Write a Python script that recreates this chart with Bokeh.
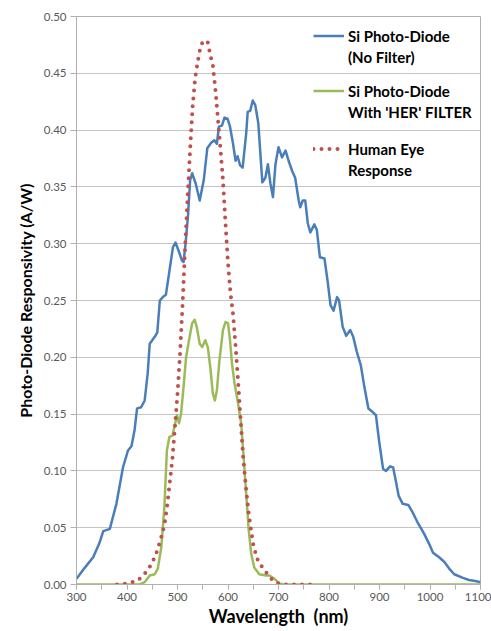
from bokeh.plotting import figure
from bokeh.models import Legend, LegendItem, NumeralTickFormatter, FixedTicker, Range1d
from bokeh.embed import file_html
from bokeh.resources import INLINE

# ---- data ----
blue_nm = [300, 315, 333, 345, 353, 366, 379, 392, 402, 409, 415, 420, 428, 435, 441, 445, 455, 460,
           465, 471, 477, 484, 491, 496, 502, 509, 512, 516, 521, 525, 529, 536, 544, 552, 559, 567,
           573, 578, 582, 588, 593, 599, 604, 610, 615, 619, 624, 629, 636, 639, 644, 649, 654, 660,
           668, 674, 679, 684, 689, 694, 700, 707, 714, 720, 727, 733, 740, 743, 748, 753, 758, 763,
           771, 776, 782, 791, 797, 803, 809, 816, 820, 827, 834, 842, 848, 855, 863, 870, 878, 886,
           893, 899, 907, 913, 921, 927, 932, 938, 946, 957, 965, 975, 988, 998, 1006, 1018, 1028,
           1038, 1048, 1064, 1077, 1090, 1100]
blue_val = [0.005, 0.014, 0.024, 0.036, 0.047, 0.049, 0.071, 0.103, 0.118, 0.122, 0.136, 0.155, 0.156,
            0.162, 0.186, 0.212, 0.218, 0.222, 0.250, 0.253, 0.255, 0.276, 0.297, 0.301, 0.294, 0.285,
            0.284, 0.300, 0.326, 0.356, 0.362, 0.353, 0.338, 0.356, 0.384, 0.389, 0.391, 0.388, 0.403,
            0.404, 0.411, 0.410, 0.403, 0.388, 0.373, 0.377, 0.369, 0.367, 0.397, 0.416, 0.417, 0.426,
            0.422, 0.406, 0.354, 0.358, 0.370, 0.353, 0.341, 0.370, 0.385, 0.376, 0.382, 0.373, 0.364,
            0.358, 0.338, 0.332, 0.338, 0.338, 0.318, 0.310, 0.317, 0.312, 0.288, 0.287, 0.268, 0.246,
            0.241, 0.253, 0.250, 0.227, 0.219, 0.224, 0.218, 0.205, 0.193, 0.174, 0.155, 0.152, 0.149,
            0.127, 0.102, 0.100, 0.104, 0.103, 0.092, 0.078, 0.071, 0.070, 0.064, 0.055, 0.045, 0.036,
            0.028, 0.024, 0.020, 0.014, 0.009, 0.006, 0.004, 0.003, 0.002]

green_nm = [300, 425, 435, 445, 455, 461, 468, 474, 479, 484, 490, 494, 499, 503, 507, 512, 517, 524,
            529, 534, 538, 544, 549, 555, 560, 565, 570, 574, 578, 583, 590, 595, 600, 604, 608, 613,
            619, 626, 631, 636, 641, 646, 652, 662, 675, 682, 692, 702, 710, 1100]
green_val = [0.0, 0.0, 0.002, 0.008, 0.009, 0.014, 0.033, 0.068, 0.118, 0.130, 0.131, 0.139, 0.149,
             0.142, 0.150, 0.174, 0.200, 0.218, 0.230, 0.233, 0.227, 0.212, 0.209, 0.215, 0.209, 0.191,
             0.168, 0.162, 0.171, 0.197, 0.224, 0.231, 0.230, 0.215, 0.194, 0.177, 0.162, 0.142, 0.112,
             0.080, 0.048, 0.027, 0.015, 0.009, 0.008, 0.008, 0.005, 0.001, 0.0, 0.0]

eye_nm = [380, 390, 400, 410, 420, 430, 440, 450, 460, 470, 475, 480, 485, 490, 495, 500, 505, 510,
          515, 520, 525, 530, 535, 540, 545, 550, 555, 560, 565, 570, 575, 580, 585, 590, 595, 600,
          605, 610, 615, 620, 625, 630, 635, 640, 645, 650, 655, 660, 670, 680, 690, 700, 710, 720,
          730, 740, 750, 760, 770]
eye_val = [0.000, 0.000, 0.001, 0.002, 0.003, 0.007, 0.012, 0.019, 0.030, 0.045, 0.055, 0.071, 0.091,
           0.111, 0.139, 0.168, 0.203, 0.246, 0.296, 0.341, 0.383, 0.421, 0.446, 0.460, 0.472, 0.478,
           0.479, 0.477, 0.466, 0.457, 0.436, 0.410, 0.384, 0.356, 0.318, 0.283, 0.256, 0.238, 0.210,
           0.179, 0.145, 0.112, 0.088, 0.066, 0.050, 0.035, 0.027, 0.020, 0.014, 0.008, 0.003, 0.001,
           0.000, 0.000, 0.000, 0.000, 0.000, 0.000, 0.000]

x_ticks = [300, 400, 500, 600, 700, 800, 900, 1000, 1100]
y_ticks = [0.00, 0.05, 0.10, 0.15, 0.20, 0.25, 0.30, 0.35, 0.40, 0.45, 0.50]

labels = [("Si Photo-Diode", "(No Filter)"),
          ("Si Photo-Diode", "With 'HER' FILTER"),
          ("Human Eye", "Response")]

# ---- figure ----
p = figure(width=491, height=631, output_backend="svg", toolbar_location=None,
           x_range=Range1d(300, 1100), y_range=Range1d(0, 0.5),
           min_border_left=76, min_border_right=11, min_border_top=16, min_border_bottom=47)

FONT = "Lato"
TXT = "#595959"
GRID = "#C4C4C4"
AX = "#B0B0B0"

p.outline_line_color = AX
p.background_fill_color = "white"
p.border_fill_color = "white"

p.xgrid.grid_line_color = None
p.ygrid.grid_line_color = GRID
p.ygrid.ticker = FixedTicker(ticks=y_ticks)

p.xaxis.ticker = FixedTicker(ticks=x_ticks, minor_ticks=list(range(300, 1101, 50)))
p.yaxis.ticker = FixedTicker(ticks=y_ticks)
p.yaxis.formatter = NumeralTickFormatter(format="0.00")

for ax in (p.xaxis[0], p.yaxis[0]):
    ax.axis_line_color = AX
    ax.major_tick_line_color = AX
    ax.minor_tick_line_color = AX
    ax.major_tick_in = 0
    ax.minor_tick_in = 0
    ax.major_label_text_font = FONT
    ax.major_label_text_font_size = "11.5px"
    ax.major_label_text_color = TXT
    ax.axis_label_text_font = FONT
    ax.axis_label_text_font_style = "bold"
    ax.axis_label_text_color = "black"

p.xaxis.major_tick_out = 5
p.xaxis.minor_tick_out = 5
p.yaxis.major_tick_out = 6
p.yaxis.minor_tick_line_color = None
p.xaxis.major_label_standoff = 3
p.yaxis.major_label_standoff = 4

p.xaxis.axis_label = "Wavelength\u00a0\u00a0(nm)"
p.xaxis.axis_label_text_font_size = "18px"
p.xaxis.axis_label_standoff = 1
p.yaxis.axis_label = "Photo-Diode Responsivity (A/W)"
p.yaxis.axis_label_text_font_size = "16px"
p.yaxis.axis_label_standoff = 6

r_blue = p.line(blue_nm, blue_val, line_color="#4A7EBB", line_width=2.5, line_join="round")
r_green = p.line(green_nm, green_val, line_color="#9BBB59", line_width=2.5, line_join="round")
r_eye = p.line(eye_nm, eye_val, line_color="#C0504D", line_width=4, line_dash="0 8",
               line_cap="round")
# empty, invisible renderer used for the second text line of each legend entry
r_blank = p.line(x=[], y=[], line_alpha=0)

# one small legend per entry, so that the sample line sits beside the first text line
legend_tops = [25, 80, 138]   # screen px from top of the canvas
renderers = [r_blue, r_green, r_eye]
for (first, second), rend, top in zip(labels, renderers, legend_tops):
    lg = Legend(items=[LegendItem(label=first, renderers=[rend]),
                       LegendItem(label=second, renderers=[r_blank])],
                location=(237, 584 - (top + 42)), padding=0, margin=0, spacing=0,
                glyph_width=31, glyph_height=21, label_height=21, label_standoff=4,
                label_text_font=FONT, label_text_font_style="bold", label_text_font_size="15px",
                label_text_color="black", border_line_alpha=0, background_fill_alpha=0)
    p.add_layout(lg, "center")

open("out.html", "w").write(file_html(p, INLINE))
